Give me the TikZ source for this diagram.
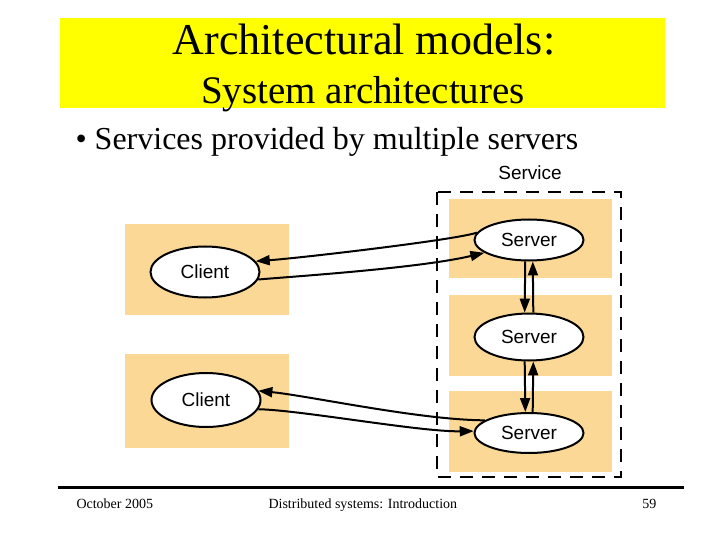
\documentclass[tikz,border=0pt]{standalone}
\usepackage{fontspec}
\setmainfont{Liberation Serif}
\newfontfamily\diagfont{Liberation Sans}
\usetikzlibrary{arrows.meta,shapes.geometric}
\definecolor{titleyellow}{RGB}{255,255,0}
\definecolor{boxorange}{RGB}{252,216,150}
\tikzset{
  pane/.style={fill=boxorange, draw=none},
  proc/.style={draw=black, line width=2pt, fill=white, ellipse, minimum width=109pt, minimum height=46pt, inner sep=0pt, font=\diagfont\fontsize{19}{19}\selectfont},
  conn/.style={draw=black, line width=2pt, -{Triangle[length=14pt,width=10pt]}},
  footer/.style={font=\fontsize{14}{14}\selectfont, anchor=base}
}
\begin{document}
\begin{tikzpicture}[x=1pt,y=-1pt]
\useasboundingbox (0,0) rectangle (720,540);
\fill[white] (0,0) rectangle (720,540);
% title
\fill[titleyellow] (60,18) rectangle (665,108);
\node[font=\fontsize{44}{44}\selectfont, anchor=base] (t1) at (364,55) {Architectural models:};
\node[font=\fontsize{39}{39}\selectfont, anchor=base] (t2) at (363,104) {System architectures};
\node[font=\fontsize{32}{32}\selectfont, anchor=base west] (b1) at (72,150) {\textbullet\ Services provided by multiple servers};
% footer
\draw[line width=3pt] (58,487) -- (684,487);
\node[footer, anchor=base west] (f1) at (73,508) {October 2005};
\node[footer, anchor=base west] (f2) at (265,508) {Distributed systems: Introduction};
\node[footer, anchor=base east] (f3) at (660,508) {59};
% panes
\fill[pane] (125,224) rectangle (289,315);
\fill[pane] (125,354) rectangle (289,448);
\fill[pane] (449,199) rectangle (612,278);
\fill[pane] (449,295) rectangle (612,376);
\fill[pane] (449,391) rectangle (612,472);
% service boundary
\draw[line width=2.2pt, dash pattern=on 13pt off 9pt] (437,192) rectangle (621,477);
\node[font=\diagfont\fontsize{19}{19}\selectfont] (svc) at (530,173) {Service};
% processes
\node[proc, minimum height=51pt] (c1) at (205,272) {Client};
\node[proc, minimum height=54pt] (c2) at (206,400) {Client};
\node[proc, minimum height=41pt] (s1) at (529,240) {Server};
\node[proc, minimum height=47pt] (s2) at (529,337) {Server};
\node[proc, minimum height=40pt] (s3) at (529,433) {Server};
% connectors
\draw[conn] (s1.172) .. controls (455,240) and (300,258) .. (c1.12);
\draw[conn] (c1.-8) .. controls (300,276) and (420,268) .. (s1.196);
\draw[conn] (s1.-100) -- (s2.100);
\draw[conn] (s2.80) -- (s1.-80);
\draw[conn] (s2.-100) -- (s3.100);
\draw[conn] (s3.80) -- (s2.-80);
\draw[conn] (s3.164) .. controls (420,420) and (310,396) .. (c2.10);
\draw[conn] (c2.-10) .. controls (300,410) and (420,432) .. (s3.178);
\end{tikzpicture}
\end{document}
